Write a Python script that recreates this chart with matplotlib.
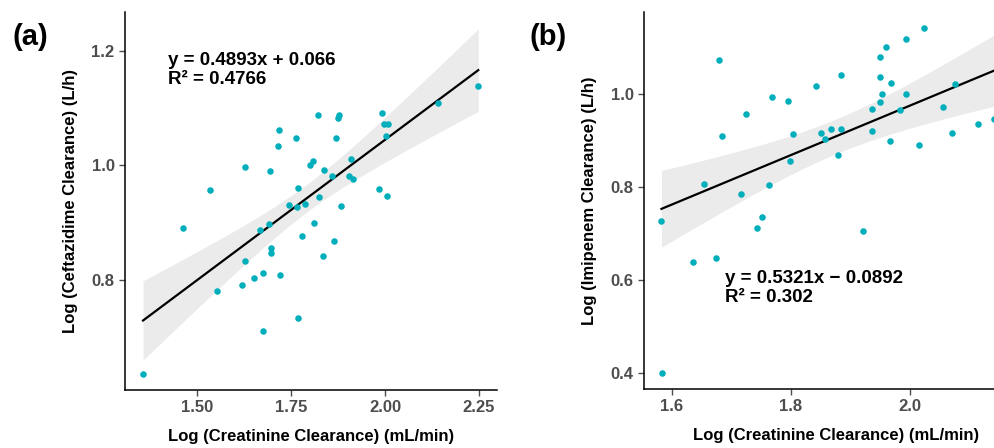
import numpy as np
import matplotlib
matplotlib.use('Agg')
from matplotlib import pyplot as plt

plt.rcParams['font.family'] = ['Liberation Sans', 'DejaVu Sans']
plt.rcParams['font.weight'] = 'bold'

# panel (a): ceftazidime
cef_x = [1.357, 1.462, 1.534, 1.554, 1.628, 1.627, 1.620, 1.653, 1.677, 1.677,
         1.668, 1.691, 1.697, 1.697, 1.694, 1.718, 1.717, 1.720, 1.745, 1.763,
         1.770, 1.767, 1.787, 1.779, 1.769, 1.802, 1.809, 1.811, 1.822, 1.824,
         1.835, 1.838, 1.859, 1.864, 1.870, 1.878, 1.876, 1.883, 1.909, 1.905,
         1.914, 1.983, 1.992, 1.997, 2.007, 2.002, 2.005, 2.140, 2.248]
cef_y = [0.637, 0.891, 0.957, 0.781, 0.998, 0.833, 0.791, 0.804, 0.813, 0.712,
         0.888, 0.898, 0.857, 0.847, 0.991, 1.062, 1.034, 0.810, 0.931, 1.048,
         0.961, 0.928, 0.933, 0.877, 0.734, 1.000, 1.008, 0.899, 1.087, 0.945,
         0.842, 0.992, 0.981, 0.869, 1.048, 1.088, 1.083, 0.929, 1.012, 0.981,
         0.977, 0.959, 1.091, 1.072, 1.072, 1.052, 0.947, 1.108, 1.138]
cef_fit = (0.4893, 0.066)
cef_text = 'y = 0.4893x + 0.066\nR² = 0.4766'

# panel (b): imipenem
imi_x = [1.583, 1.584, 1.636, 1.655, 1.674, 1.679, 1.685, 1.716, 1.725, 1.743,
         1.752, 1.763, 1.768, 1.795, 1.798, 1.804, 1.843, 1.851, 1.857, 1.867,
         1.880, 1.884, 1.885, 1.922, 1.936, 1.937, 1.949, 1.950, 1.949, 1.954,
         1.960, 1.966, 1.969, 1.983, 1.993, 1.994, 2.016, 2.024, 2.056, 2.070,
         2.075, 2.115, 2.141, 2.150]
imi_y = [0.728, 0.401, 0.638, 0.807, 0.648, 1.073, 0.910, 0.784, 0.958, 0.712,
         0.735, 0.804, 0.993, 0.984, 0.856, 0.914, 1.017, 0.917, 0.904, 0.925,
         0.868, 0.924, 1.040, 0.705, 0.968, 0.920, 1.037, 1.080, 0.983, 1.000,
         1.100, 0.900, 1.024, 0.966, 1.000, 1.118, 0.890, 1.142, 0.973, 0.917,
         1.021, 0.935, 0.946, 0.794]
imi_fit = (0.5321, -0.0892)
imi_text = 'y = 0.5321x − 0.0892\nR² = 0.302'

teal = '#00AFBB'
tick_col = '#4D4D4D'
t_crit = 2.01


def draw_panel(ax, xs, ys, fit, text, text_xy, xlim, ylim, xticks, yticks, xfmt, ylabel):
    xs = np.array(xs)
    ys = np.array(ys)
    slope, icpt = fit
    n = len(xs)
    resid = ys - (slope * xs + icpt)
    s = np.sqrt(np.sum(resid ** 2) / (n - 2))
    sxx = np.sum((xs - xs.mean()) ** 2)
    gx = np.linspace(xs.min(), xs.max(), 200)
    gy = slope * gx + icpt
    se = s * np.sqrt(1.0 / n + (gx - xs.mean()) ** 2 / sxx)
    ax.fill_between(gx, gy - t_crit * se, gy + t_crit * se, color='#ebebeb', lw=0, zorder=1)
    ax.scatter(xs, ys, s=22, color=teal, lw=0, zorder=3)
    ax.plot(gx, gy, color='black', lw=1.6, zorder=2)
    ax.text(text_xy[0], text_xy[1], text, fontsize=13.5, fontweight='bold',
            va='top', ha='left', linespacing=1.15)
    ax.set_xlim(*xlim)
    ax.set_ylim(*ylim)
    ax.set_xticks(xticks)
    ax.set_xticklabels([xfmt % v for v in xticks])
    ax.set_yticks(yticks)
    ax.set_yticklabels(['%.1f' % v for v in yticks])
    ax.spines['top'].set_visible(False)
    ax.spines['right'].set_visible(False)
    for sp in ('left', 'bottom'):
        ax.spines[sp].set_linewidth(1.1)
    ax.tick_params(colors=tick_col, labelsize=12, length=4, width=1, labelcolor=tick_col)
    for lab in ax.get_xticklabels() + ax.get_yticklabels():
        lab.set_fontweight('bold')
    ax.set_xlabel('Log (Creatinine Clearance) (mL/min)', fontsize=12, fontweight='bold', labelpad=10)
    ax.set_ylabel(ylabel, fontsize=12, fontweight='bold', labelpad=10)


fig = plt.figure(figsize=(9.95, 4.48), dpi=100)
ax1 = fig.add_axes([0.1256, 0.1295, 0.374, 0.8435])
ax2 = fig.add_axes([0.6472, 0.1317, 0.387, 0.8413])

draw_panel(ax1, cef_x, cef_y, cef_fit, cef_text, (1.423, 1.197),
           (1.309, 2.298), (0.609, 1.267), [1.50, 1.75, 2.00, 2.25], [0.8, 1.0, 1.2],
           '%.2f', 'Log (Ceftazidime Clearance) (L/h)')
draw_panel(ax2, imi_x, imi_y, imi_fit, imi_text, (1.689, 0.622),
           (1.5536, 2.2), (0.366, 1.176), [1.6, 1.8, 2.0], [0.4, 0.6, 0.8, 1.0],
           '%.1f', 'Log (Imipenem Clearance) (L/h)')

fig.text(0.013, 0.918, '(a)', fontsize=21, fontweight='bold', va='center')
fig.text(0.532, 0.917, '(b)', fontsize=21, fontweight='bold', va='center')

fig.savefig('out.png', dpi=100)
